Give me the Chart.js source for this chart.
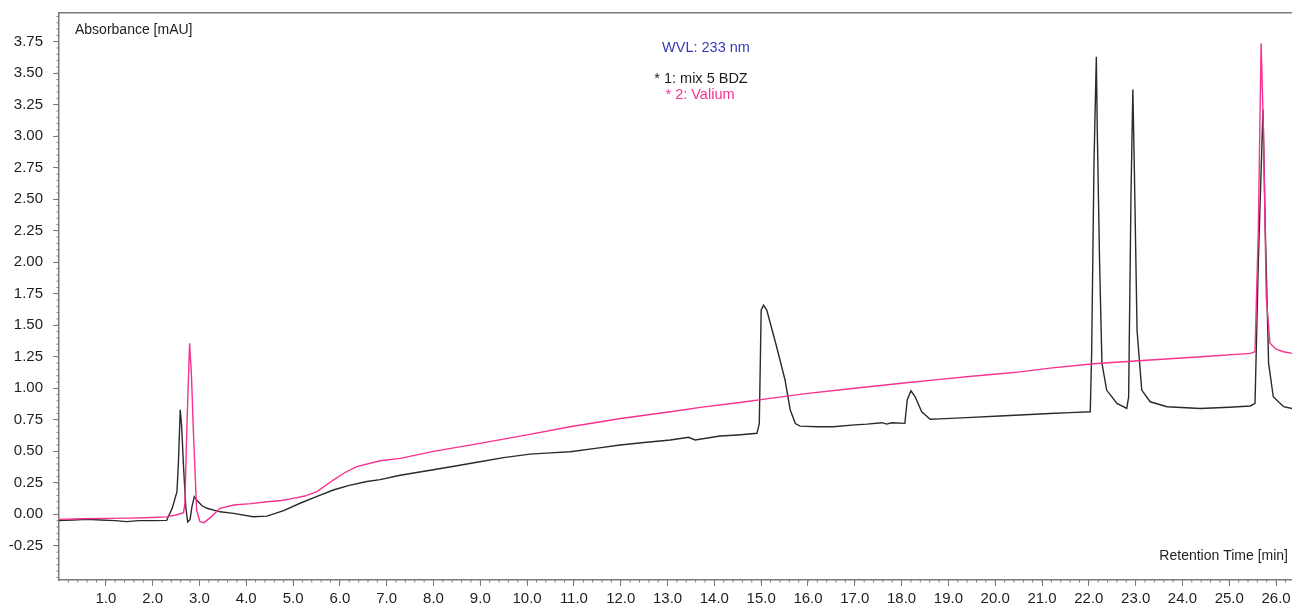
<!DOCTYPE html>
<html>
<head>
<meta charset="utf-8">
<script src="https://cdn.jsdelivr.net/npm/chart.js@4.4.1/dist/chart.umd.min.js"></script>
<style>
  html, body { margin: 0; padding: 0; background: #ffffff; }
  #wrap { position: relative; width: 1292px; height: 606px; }
</style>
</head>
<body>
<div id="wrap"><canvas id="c"></canvas></div>
<script>
// ---- Data ----
const timeMix = [0.00,0.30,0.60,0.90,1.20,1.45,1.70,2.00,2.30,2.42,2.52,2.55,2.59,2.62,2.66,2.71,2.75,2.80,2.84,2.89,2.95,3.05,3.16,3.44,3.73,4.15,4.44,4.80,5.15,5.50,5.86,6.20,6.58,6.86,7.29,7.93,8.50,8.99,9.50,10.06,10.50,10.92,11.50,11.99,12.50,13.06,13.45,13.59,14.12,14.50,14.91,14.96,15.00,15.05,15.12,15.33,15.51,15.62,15.73,15.83,16.20,16.54,17.00,17.26,17.58,17.68,17.79,18.07,18.12,18.20,18.29,18.43,18.61,18.82,19.39,20.10,20.53,21.17,21.60,22.03,22.06,22.11,22.16,22.18,22.23,22.28,22.38,22.60,22.81,22.85,22.90,22.94,22.97,23.03,23.13,23.31,23.67,24.38,25.00,25.45,25.55,25.62,25.72,25.77,25.84,25.94,26.16,26.34];
const absMix = [-0.050,-0.045,-0.040,-0.045,-0.050,-0.058,-0.050,-0.050,-0.048,0.050,0.180,0.400,0.830,0.700,0.380,0.050,-0.060,-0.040,0.060,0.140,0.110,0.070,0.048,0.020,0.008,-0.019,-0.014,0.030,0.088,0.140,0.193,0.230,0.260,0.275,0.310,0.350,0.385,0.417,0.450,0.478,0.488,0.497,0.525,0.550,0.570,0.590,0.611,0.590,0.621,0.630,0.643,0.720,1.620,1.660,1.620,1.330,1.066,0.830,0.720,0.700,0.695,0.695,0.710,0.716,0.727,0.716,0.727,0.722,0.907,0.980,0.933,0.814,0.754,0.757,0.767,0.780,0.788,0.800,0.807,0.814,1.280,2.785,3.630,3.050,1.990,1.200,0.986,0.880,0.840,0.930,2.520,3.370,2.785,1.460,0.986,0.893,0.854,0.840,0.850,0.860,0.880,1.990,3.210,2.256,1.200,0.933,0.854,0.840];

const timeValium = [0.00,0.50,1.00,1.50,2.00,2.30,2.50,2.66,2.69,2.73,2.79,2.83,2.87,2.94,3.01,3.10,3.25,3.44,3.73,4.10,4.44,4.75,5.00,5.25,5.51,5.86,6.10,6.36,6.86,7.29,8.00,8.99,10.00,10.92,12.00,13.06,13.70,14.50,15.19,16.00,17.00,18.00,18.82,19.50,20.10,20.53,21.17,22.10,23.31,24.40,25.45,25.55,25.62,25.68,25.73,25.79,25.87,26.00,26.16,26.34];
const absValium = [-0.040,-0.035,-0.032,-0.030,-0.025,-0.020,-0.005,0.013,0.087,0.670,1.357,1.100,0.670,0.034,-0.058,-0.066,-0.020,0.048,0.074,0.085,0.100,0.110,0.127,0.145,0.180,0.272,0.330,0.378,0.425,0.444,0.500,0.563,0.630,0.695,0.760,0.814,0.849,0.885,0.920,0.960,1.000,1.040,1.071,1.095,1.115,1.130,1.160,1.195,1.224,1.250,1.277,1.290,2.256,3.737,3.050,1.727,1.357,1.310,1.290,1.277];

const xTickValues = [1,2,3,4,5,6,7,8,9,10,11,12,13,14,15,16,17,18,19,20,21,22,23,24,25,26];
const yTickValues = [-0.25,0,0.25,0.5,0.75,1,1.25,1.5,1.75,2,2.25,2.5,2.75,3,3.25,3.5,3.75];

const seriesNames = ['* 1: mix 5 BDZ', '* 2: Valium'];
const headerText = 'WVL: 233 nm';
const yTitle = 'Absorbance [mAU]';
const xTitle = 'Retention Time [min]';

// ---- Styling ----
const BLACK = '#2a2a2a';
const PINK = '#f7318f';
const AXIS = '#7c7c7c';
const FONT = 'Arial, "Liberation Sans", sans-serif';

function pairs(xs, ys) { return xs.map((x, i) => ({ x: x, y: ys[i] })); }

const decorations = {
  id: 'decorations',
  afterDraw(chart) {
    const ctx = chart.ctx;
    const a = chart.chartArea;
    const xs = chart.scales.x, ys = chart.scales.y;
    ctx.save();
    // top frame line
    ctx.strokeStyle = AXIS;
    ctx.lineWidth = 1.5;
    ctx.beginPath();
    ctx.moveTo(a.left, a.top);
    ctx.lineTo(a.right, a.top);
    ctx.stroke();
    // minor ticks
    ctx.lineWidth = 1;
    ctx.beginPath();
    for (let i = -10; i <= 79; i++) {
      const py = ys.getPixelForValue(i * 0.05);
      if (py < a.top || py > a.bottom) continue;
      ctx.moveTo(a.left - 2.5, py);
      ctx.lineTo(a.left, py);
    }
    for (let i = 1; i <= 131; i++) {
      const px = xs.getPixelForValue(i * 0.2);
      if (px < a.left || px > a.right) continue;
      ctx.moveTo(px, a.bottom);
      ctx.lineTo(px, a.bottom + 2.5);
    }
    ctx.stroke();
    // texts
    ctx.textBaseline = 'middle';
    ctx.font = '14px ' + FONT;
    ctx.fillStyle = '#1e1e1e';
    ctx.textAlign = 'left';
    ctx.fillText(yTitle, a.left + 16, 30);
    ctx.textAlign = 'right';
    ctx.fillText(xTitle, 1288, 556);
    ctx.textAlign = 'center';
    ctx.font = '14.5px ' + FONT;
    ctx.fillStyle = '#3a3ab8';
    ctx.fillText(headerText, 706, 48);
    ctx.fillStyle = '#1e1e1e';
    ctx.fillText(seriesNames[0], 701, 79);
    ctx.fillStyle = PINK;
    ctx.fillText(seriesNames[1], 700, 94.5);
    ctx.restore();
  }
};

new Chart(document.getElementById('c'), {
  type: 'line',
  data: {
    datasets: [
      { label: seriesNames[1], data: pairs(timeValium, absValium), borderColor: PINK, borderWidth: 1.4, pointRadius: 0, tension: 0, fill: false },
      { label: seriesNames[0], data: pairs(timeMix, absMix), borderColor: BLACK, borderWidth: 1.4, pointRadius: 0, tension: 0, fill: false }
    ]
  },
  options: {
    responsive: true,
    maintainAspectRatio: false,
    animation: false,
    layout: { padding: { top: 12.7, left: 0, right: 0, bottom: 0 } },
    plugins: { legend: { display: false }, tooltip: { enabled: false }, title: { display: false } },
    scales: {
      x: {
        type: 'linear', min: 0, max: 26.34,
        afterBuildTicks(s) { s.ticks = xTickValues.map(v => ({ value: v })); },
        afterFit(s) { s.height = 26; s.paddingLeft = 0; s.paddingRight = 0; },
        grid: { display: true, drawOnChartArea: false, drawTicks: true, tickLength: 6, color: AXIS, lineWidth: 1 },
        border: { display: true, color: AXIS, width: 1.5 },
        ticks: { autoSkip: false, maxRotation: 0, padding: 4, color: '#1e1e1e', font: { size: 15, family: FONT },
                 callback: v => Number(v).toFixed(1) }
      },
      y: {
        type: 'linear', min: -0.521, max: 3.98,
        afterBuildTicks(s) { s.ticks = yTickValues.map(v => ({ value: v })); },
        afterFit(s) { s.width = 59; s.paddingTop = 0; s.paddingBottom = 0; },
        grid: { display: true, drawOnChartArea: false, drawTicks: true, tickLength: 6, color: AXIS, lineWidth: 1 },
        border: { display: true, color: AXIS, width: 1.5 },
        ticks: { autoSkip: false, padding: 10, color: '#1e1e1e', font: { size: 15, family: FONT },
                 callback: v => Number(v).toFixed(2) }
      }
    }
  },
  plugins: [decorations]
});
</script>
</body>
</html>
